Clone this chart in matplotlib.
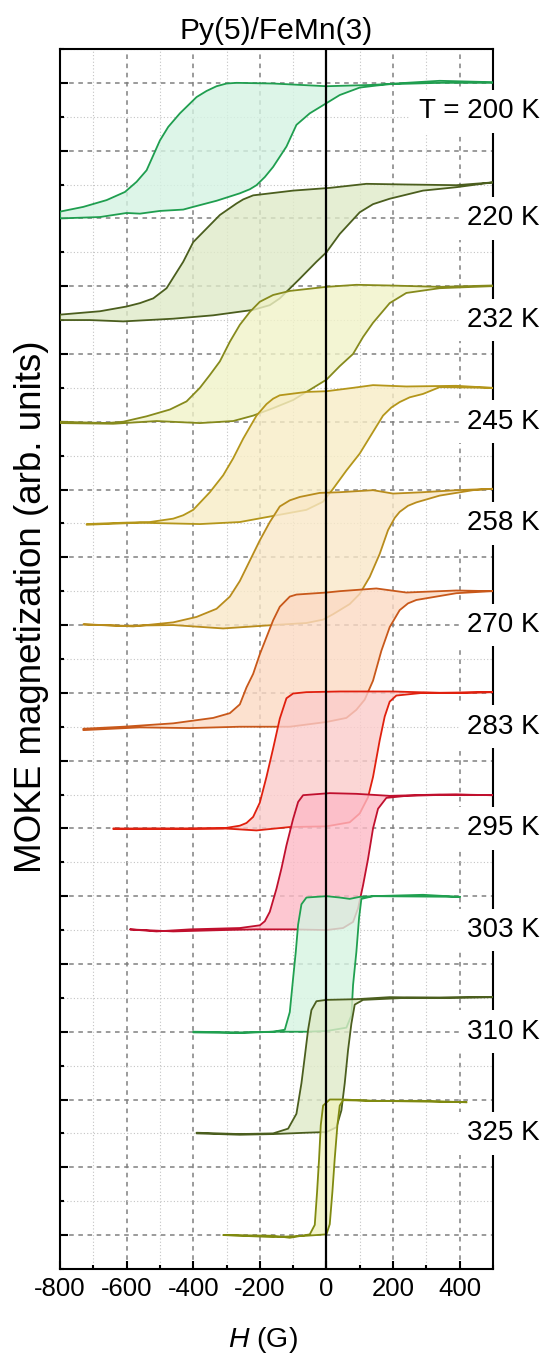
import matplotlib
matplotlib.use('Agg')
import matplotlib.pyplot as plt
from matplotlib.ticker import MultipleLocator

plt.rcParams['font.family'] = ['Liberation Sans', 'DejaVu Sans']
plt.rcParams['axes.unicode_minus'] = False
plt.rcParams['mathtext.fontset'] = 'custom'
plt.rcParams['mathtext.it'] = 'Liberation Sans:italic'
plt.rcParams['mathtext.rm'] = 'Liberation Sans'

# temperaturas (K) y etiquetas
temps = [200, 220, 232, 245, 258, 270, 283, 295, 303, 310, 325]
etiquetas = ['T = 200 K', '220 K', '232 K', '245 K', '258 K', '270 K',
             '283 K', '295 K', '303 K', '310 K', '325 K']

# rama descendente (H de + a -) y ascendente (H de - a +), M normalizada
h200_dn = [497, 340, 140, 0, -160, -270, -300, -330, -360, -390, -440, -475, -500, -520, -540, -570, -605, -660, -730, -800]
m200_dn = [1.01, 1.03, 0.97, 0.95, 0.99, 1.0, 0.99, 0.95, 0.88, 0.79, 0.55, 0.35, 0.15, -0.07, -0.29, -0.46, -0.61, -0.73, -0.83, -0.90]
h200_up = [-800, -680, -600, -560, -500, -430, -400, -330, -260, -230, -210, -185, -160, -120, -90, -50, 0, 40, 100, 150, 190, 340, 497]
m200_up = [-1.0, -0.98, -0.92, -0.93, -0.89, -0.87, -0.83, -0.74, -0.63, -0.57, -0.51, -0.39, -0.24, 0.06, 0.38, 0.55, 0.70, 0.82, 0.93, 0.96, 0.98, 1.0, 1.0]

h220_dn = [497, 390, 240, 120, 10, -100, -220, -250, -270, -320, -360, -400, -430, -480, -520, -560, -600, -680, -800]
m220_dn = [1.03, 0.99, 1.0, 1.01, 0.95, 0.91, 0.84, 0.78, 0.72, 0.55, 0.35, 0.15, -0.14, -0.53, -0.68, -0.75, -0.80, -0.87, -0.92]
h220_up = [-800, -710, -610, -460, -340, -220, -170, -140, -80, -30, 0, 40, 100, 140, 190, 290, 390, 497]
m220_up = [-1.0, -1.0, -1.02, -0.98, -0.93, -0.85, -0.78, -0.68, -0.39, -0.14, 0.0, 0.27, 0.59, 0.71, 0.79, 0.91, 0.96, 1.03]

h232_dn = [497, 340, 190, 90, 0, -110, -160, -200, -230, -260, -290, -320, -350, -380, -420, -470, -540, -610, -660, -800]
m232_dn = [1.01, 0.99, 1.01, 1.02, 0.99, 0.93, 0.87, 0.77, 0.62, 0.43, 0.18, -0.11, -0.31, -0.50, -0.70, -0.82, -0.92, -1.0, -1.02, -1.0]
h232_up = [-800, -640, -510, -380, -280, -220, -160, -100, -40, 0, 40, 80, 110, 140, 190, 240, 340, 497]
m232_up = [-1.02, -1.03, -0.99, -1.02, -0.99, -0.91, -0.80, -0.68, -0.50, -0.38, -0.18, 0.0, 0.25, 0.46, 0.75, 0.90, 0.97, 1.0]

h245_dn = [497, 390, 240, 140, 80, 0, -60, -140, -160, -180, -210, -250, -280, -310, -350, -400, -430, -460, -530, -610, -720]
m245_dn = [1.0, 1.03, 1.02, 1.04, 1.0, 0.95, 0.94, 0.89, 0.84, 0.76, 0.59, 0.25, -0.04, -0.29, -0.54, -0.80, -0.88, -0.93, -0.98, -0.99, -1.01]
h245_up = [-720, -560, -380, -260, -160, -60, -10, 20, 60, 100, 140, 170, 195, 220, 250, 290, 340, 497]
m245_up = [-1.02, -0.99, -1.01, -0.98, -0.89, -0.80, -0.68, -0.49, -0.22, 0.03, 0.35, 0.59, 0.71, 0.79, 0.86, 0.91, 1.01, 1.0]

h258_dn = [497, 390, 290, 200, 140, 40, -20, -80, -110, -140, -170, -200, -230, -260, -290, -330, -390, -460, -580, -730]
m258_dn = [1.01, 0.99, 0.96, 0.94, 0.99, 0.96, 0.95, 0.89, 0.84, 0.75, 0.52, 0.25, -0.05, -0.35, -0.58, -0.76, -0.88, -0.96, -1.02, -0.99]
h258_up = [-730, -610, -460, -310, -160, -60, -10, 20, 70, 100, 130, 160, 185, 205, 220, 245, 270, 340, 440, 497]
m258_up = [-0.99, -1.01, -1.0, -1.05, -1.0, -0.97, -0.92, -0.84, -0.69, -0.54, -0.29, 0.05, 0.40, 0.58, 0.67, 0.76, 0.81, 0.91, 0.99, 1.01]

h270_dn = [497, 390, 240, 150, 40, 0, -60, -90, -110, -140, -160, -180, -200, -220, -240, -260, -290, -340, -460, -610, -730]
m270_dn = [1.0, 1.01, 0.98, 1.04, 1.0, 0.98, 0.96, 0.95, 0.92, 0.77, 0.57, 0.32, 0.07, -0.22, -0.42, -0.67, -0.80, -0.87, -0.95, -1.0, -1.03]
h270_up = [-730, -560, -410, -260, -110, 0, 60, 90, 115, 140, 165, 190, 220, 245, 270, 390, 497]
m270_up = [-1.05, -1.01, -1.02, -1.0, -1.0, -0.93, -0.87, -0.75, -0.60, -0.32, 0.12, 0.47, 0.72, 0.82, 0.87, 0.97, 1.0]

h283_dn = [497, 340, 200, 40, -60, -100, -120, -140, -160, -180, -200, -220, -240, -260, -310, -410, -510, -640]
m283_dn = [1.01, 1.0, 1.02, 1.02, 1.01, 0.99, 0.92, 0.62, 0.18, -0.24, -0.62, -0.83, -0.92, -0.96, -1.0, -1.0, -1.0, -1.01]
h283_up = [-640, -460, -310, -210, -110, 0, 70, 100, 125, 140, 160, 175, 190, 210, 290, 400, 497]
m283_up = [-1.0, -1.01, -1.0, -1.03, -0.98, -0.97, -0.91, -0.78, -0.54, -0.24, 0.30, 0.65, 0.87, 0.96, 1.0, 1.0, 1.01]

h295_dn = [497, 340, 190, 90, 10, -70, -85, -100, -120, -135, -150, -170, -185, -200, -260, -410, -510, -590]
m295_dn = [0.99, 1.0, 0.98, 1.01, 1.02, 0.99, 0.89, 0.64, 0.25, -0.09, -0.39, -0.73, -0.87, -0.93, -0.97, -0.99, -1.02, -0.99]
h295_up = [-590, -460, -310, -210, -100, 0, 50, 80, 95, 110, 125, 140, 155, 180, 240, 390, 497]
m295_up = [-0.99, -1.02, -1.0, -0.99, -0.99, -1.0, -0.97, -0.88, -0.68, -0.34, 0.05, 0.50, 0.79, 0.95, 0.98, 1.0, 0.99]

h303_dn = [400, 290, 140, 100, 70, 40, 0, -60, -75, -85, -92, -100, -110, -125, -160, -260, -400]
m303_dn = [0.99, 1.02, 1.0, 0.99, 0.96, 0.98, 1.0, 0.98, 0.88, 0.58, 0.18, -0.21, -0.71, -0.97, -1.0, -1.01, -1.0]
h303_up = [-400, -260, -160, -60, 0, 60, 75, 80, 90, 98, 105, 140, 400]
m303_up = [-1.01, -1.02, -1.0, -1.0, -0.99, -0.94, -0.76, -0.31, 0.18, 0.68, 0.96, 1.0, 0.99]

h310_dn = [497, 340, 190, 90, 0, -30, -45, -55, -65, -75, -90, -115, -160, -260, -390]
m310_dn = [1.01, 1.0, 1.01, 0.98, 0.97, 0.95, 0.82, 0.53, 0.13, -0.26, -0.71, -0.93, -1.0, -1.01, -0.99]
h310_up = [-390, -260, -160, -60, 0, 30, 45, 55, 65, 75, 85, 110, 240, 497]
m310_up = [-1.0, -1.02, -1.01, -0.99, -0.98, -0.91, -0.66, -0.26, 0.23, 0.62, 0.90, 0.97, 1.0, 1.01]

h325_dn = [420, 290, 140, 50, 10, -10, -17, -22, -28, -35, -50, -110, -160, -310]
m325_dn = [0.96, 0.98, 0.98, 1.0, 1.0, 0.91, 0.62, 0.13, -0.36, -0.85, -0.99, -1.04, -1.01, -1.0]
h325_up = [-310, -160, -60, 0, 10, 18, 25, 33, 40, 50, 140, 420]
m325_up = [-1.0, -1.03, -1.01, -0.99, -0.84, -0.36, 0.13, 0.62, 0.91, 0.99, 0.98, 0.96]

colores = ['#1f9e4f', '#4b5e1e', '#868a1c', '#b4961a', '#b88c1c', '#c8581a',
           '#e0200e', '#c0102e', '#20a050', '#4b5e1e', '#808a10']
rellenos = ['#d5f3e3', '#dfeac8', '#f1f3c8', '#f8edc6', '#f9e8c8', '#fcdac4',
            '#fbcccb', '#fdbac6', '#d6f4e2', '#dfeac8', '#f0f2c0']

lazos = [(h200_dn, m200_dn, h200_up, m200_up),
         (h220_dn, m220_dn, h220_up, m220_up),
         (h232_dn, m232_dn, h232_up, m232_up),
         (h245_dn, m245_dn, h245_up, m245_up),
         (h258_dn, m258_dn, h258_up, m258_up),
         (h270_dn, m270_dn, h270_up, m270_up),
         (h283_dn, m283_dn, h283_up, m283_up),
         (h295_dn, m295_dn, h295_up, m295_up),
         (h303_dn, m303_dn, h303_up, m303_up),
         (h310_dn, m310_dn, h310_up, m310_up),
         (h325_dn, m325_dn, h325_up, m325_up)]

fig = plt.figure(figsize=(5.48, 13.56), dpi=100)
ax = fig.add_axes([0.1095, 0.0642, 0.790, 0.8997])

n = len(lazos)
for i in range(n):
    hd, md, hu, mu = lazos[i]
    base = 1.5 * (n - 1 - i) + 1  # desplazamiento vertical de cada lazo
    x = hd + hu
    y = [base + m for m in md + mu]
    ax.fill(x, y, color=rellenos[i], alpha=0.8, lw=0, zorder=2 + 2 * i)
    ax.plot(x, y, color=colores[i], lw=1.3, zorder=3 + 2 * i)
    ylab = base + 0.5 + (0.08 if i == 0 else 0)
    ax.text(1.108, ylab, etiquetas[i], transform=ax.get_yaxis_transform(),
            ha='right', va='center', fontsize=20, zorder=40, clip_on=False,
            bbox=dict(facecolor='white', edgecolor='none', pad=6))

ax.axvline(0, color='black', lw=1.6, zorder=35)

ax.set_xlim(-800, 500)
ax.set_ylim(-0.5, 17.5)
ax.xaxis.set_major_locator(MultipleLocator(200))
ax.xaxis.set_minor_locator(MultipleLocator(100))
ax.yaxis.set_major_locator(MultipleLocator(1))
ax.yaxis.set_minor_locator(MultipleLocator(0.5))
ax.tick_params(axis='y', labelleft=False)
ax.tick_params(which='both', direction='in', width=1.5)
ax.tick_params(which='major', length=6, labelsize=18.5, pad=6)
ax.tick_params(which='minor', length=3)
ax.set_axisbelow(True)
ax.grid(which='major', ls=(0, (3, 3)), color='#808080', lw=1.1)
ax.grid(which='minor', ls=(0, (1, 2)), color='#c4c4c4', lw=0.8)
for s in ax.spines.values():
    s.set_linewidth(1.5)

ax.set_title('Py(5)/FeMn(3)', fontsize=21.5, pad=7)
ax.set_xlabel('$H$ (G)', fontsize=20.5)
ax.xaxis.set_label_coords(0.469, -0.046)
ax.set_ylabel('MOKE magnetization (arb. units)', fontsize=26.5)
ax.yaxis.set_label_coords(-0.025, 0.543)

fig.savefig('out.png', dpi=100)
